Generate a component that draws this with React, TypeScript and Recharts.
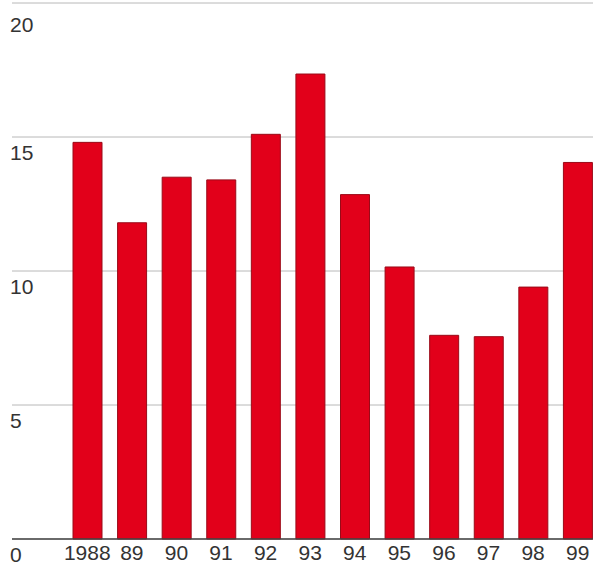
import { Bar, BarChart, CartesianGrid, XAxis, YAxis } from 'recharts';

const years = ['1988', '89', '90', '91', '92', '93', '94', '95', '96', '97', '98', '99'];
const values = [14.8, 11.8, 13.5, 13.4, 15.1, 17.35, 12.85, 10.15, 7.6, 7.55, 9.4, 14.05];
const yTicks = [0, 5, 10, 15, 20];

const rows = years.map((year, i) => ({ year, value: values[i] }));

const FONT = 'Liberation Sans, Arial, sans-serif';

// Y labels sit just under their gridline, flush to the left edge.
function YTick(props: { y?: number; payload?: { value: number } }) {
  const { y, payload } = props;
  return (
    <text x={10} y={(y ?? 0) + 23} fontFamily={FONT} fontSize={21} fill="#333" textAnchor="start">
      {payload?.value}
    </text>
  );
}

export default function App() {
  return (
    <div style={{ position: 'absolute', left: 0, top: 0, width: 593, height: 566, overflow: 'hidden' }}>
      <BarChart
        width={600}
        height={566}
        data={rows}
        margin={{ top: 3, right: 0, bottom: 0, left: 11 }}
        barSize={29}
      >
        <CartesianGrid horizontal vertical={false} stroke="#b8b8b8" />
        <XAxis
          dataKey="year"
          height={27}
          padding={{ left: 53, right: 0 }}
          axisLine={{ stroke: '#444', strokeWidth: 1.5 }}
          tickLine={false}
          interval={0}
          tick={{ fontFamily: FONT, fontSize: 21, fill: '#333' }}
          dy={-2}
        />
        <YAxis
          domain={[0, 20]}
          ticks={yTicks}
          width={1}
          axisLine={false}
          tickLine={false}
          tick={(p: any) => <YTick {...p} />}
        />
        <Bar dataKey="value" fill="#e2001a" stroke="#9a0a18" strokeWidth={1} isAnimationActive={false} />
      </BarChart>
    </div>
  );
}
